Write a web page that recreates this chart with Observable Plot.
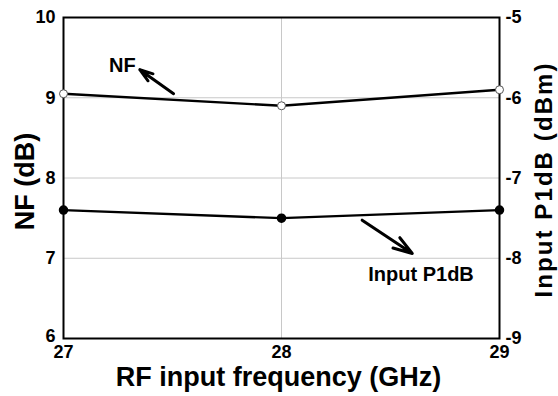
<!DOCTYPE html>
<html>
<head>
<meta charset="utf-8">
<script src="https://cdn.jsdelivr.net/npm/d3@7"></script>
<script src="https://cdn.jsdelivr.net/npm/@observablehq/plot@0.6"></script>
<style>
  html, body { margin: 0; padding: 0; background: #fff; }
  #chart svg { overflow: visible; }
</style>
</head>
<body>
<div id="chart"></div>
<script>
// ---- data ----
const freq = [27, 28, 29];                 // GHz
const nf = [9.05, 8.9, 9.1];               // dB
const p1db = [-7.4, -7.5, -7.4];           // dBm
const xTicks = [27, 28, 29];
const nfTicks = [6, 7, 8, 9, 10];
const p1dbTicks = [-9, -8, -7, -6, -5];
const nfDomain = [6, 10];
const p1dbDomain = [-9, -5];
const xDomain = [27, 29];
// annotations (data units: GHz, dB / dBm)
const nfLabel = [{x: 27.27, y: 9.4, text: "NF"}];
const nfArrow = [{x1: 27.505, y1: 9.05, x2: 27.35, y2: 9.35}];
const p1Label = [{x: 28.64, y: -8.2, text: "Input P1dB"}];
const p1Arrow = [{x1: 28.37, y1: -7.525, x2: 28.6, y2: -7.94}];

// map right-axis (dBm) values onto the left (dB) scale
const toLeft = d3.scaleLinear(p1dbDomain, nfDomain);

const font = "'Liberation Sans', Arial, sans-serif";
const nfData = freq.map((f, i) => ({f, v: nf[i]}));
const p1Data = freq.map((f, i) => ({f, v: toLeft(p1db[i])}));
const fmt = d => String(d);
const fmtRight = d => String(Math.round(toLeft.invert(d)));

const chart = Plot.plot({
  width: 558,
  height: 396,
  marginLeft: 63,
  marginRight: 59,
  marginTop: 17,
  marginBottom: 58,
  style: {fontFamily: font, color: "black", background: "white"},
  x: {domain: xDomain},
  y: {domain: nfDomain},
  marks: [
    Plot.gridY(nfTicks.slice(1, -1), {stroke: "#c8c8c8", strokeOpacity: 1, strokeWidth: 1}),
    Plot.gridX(xTicks.slice(1, -1), {stroke: "#c8c8c8", strokeOpacity: 1, strokeWidth: 1}),
    Plot.axisX(xTicks, {anchor: "bottom", tickSize: 0, tickPadding: 7, fontSize: 18, fontWeight: "bold", label: null, tickFormat: fmt}),
    Plot.axisY(nfTicks.slice(1), {anchor: "left", tickSize: 0, tickPadding: 8, fontSize: 18, fontWeight: "bold", label: null, tickFormat: fmt}),
    Plot.axisY(nfTicks.slice(0, 1), {anchor: "left", tickSize: 0, tickPadding: 8, dy: -2, fontSize: 18, fontWeight: "bold", label: null, tickFormat: fmt}),
    Plot.axisY(p1dbTicks.map(toLeft), {anchor: "right", tickSize: 0, tickPadding: 6, fontSize: 18, fontWeight: "bold", label: null, tickFormat: fmtRight}),
    Plot.frame({stroke: "black", strokeWidth: 2}),
    Plot.line(nfData, {x: "f", y: "v", stroke: "black", strokeWidth: 2.4}),
    Plot.line(p1Data, {x: "f", y: "v", stroke: "black", strokeWidth: 2.4}),
    Plot.dot(nfData, {x: "f", y: "v", r: 4, fill: "white", stroke: "#555", strokeWidth: 1}),
    Plot.dot(p1Data, {x: "f", y: "v", r: 4, fill: "black", stroke: "black"}),
    Plot.arrow(nfArrow, {x1: "x1", y1: "y1", x2: "x2", y2: "y2", stroke: "black", strokeWidth: 3, headLength: 12, headAngle: 36}),
    Plot.arrow(p1Arrow, {x1: "x1", y1: d => toLeft(d.y1), x2: "x2", y2: d => toLeft(d.y2), stroke: "black", strokeWidth: 3, headLength: 12, headAngle: 36}),
    Plot.text(nfLabel, {x: "x", y: "y", text: "text", fontSize: 20, fontWeight: "bold", fill: "black"}),
    Plot.text(p1Label, {x: "x", y: d => toLeft(d.y), text: "text", fontSize: 20, fontWeight: "bold", fill: "black"}),
    Plot.text(["RF input frequency (GHz)"], {frameAnchor: "bottom", textAnchor: "middle", lineAnchor: "middle", dy: 39, dx: -3, fontSize: 27, fontWeight: "bold", fill: "black"}),
    Plot.text(["NF (dB)"], {frameAnchor: "left", textAnchor: "middle", lineAnchor: "middle", rotate: -90, dx: -38, dy: 3.5, fontSize: 27, fontWeight: "bold", fill: "black"}),
    Plot.text(["Input P1dB (dBm)"], {frameAnchor: "right", textAnchor: "middle", lineAnchor: "middle", rotate: -90, dx: 45, dy: 2.5, fontSize: 24, fontWeight: "bold", fill: "black"})
  ]
});
// stretch right title to the reference's length
d3.select(chart).selectAll("text").filter(function() { return this.textContent === "Input P1dB (dBm)"; })
  .attr("textLength", 234).attr("lengthAdjust", "spacing");
document.getElementById("chart").appendChild(chart);
</script>
</body>
</html>
